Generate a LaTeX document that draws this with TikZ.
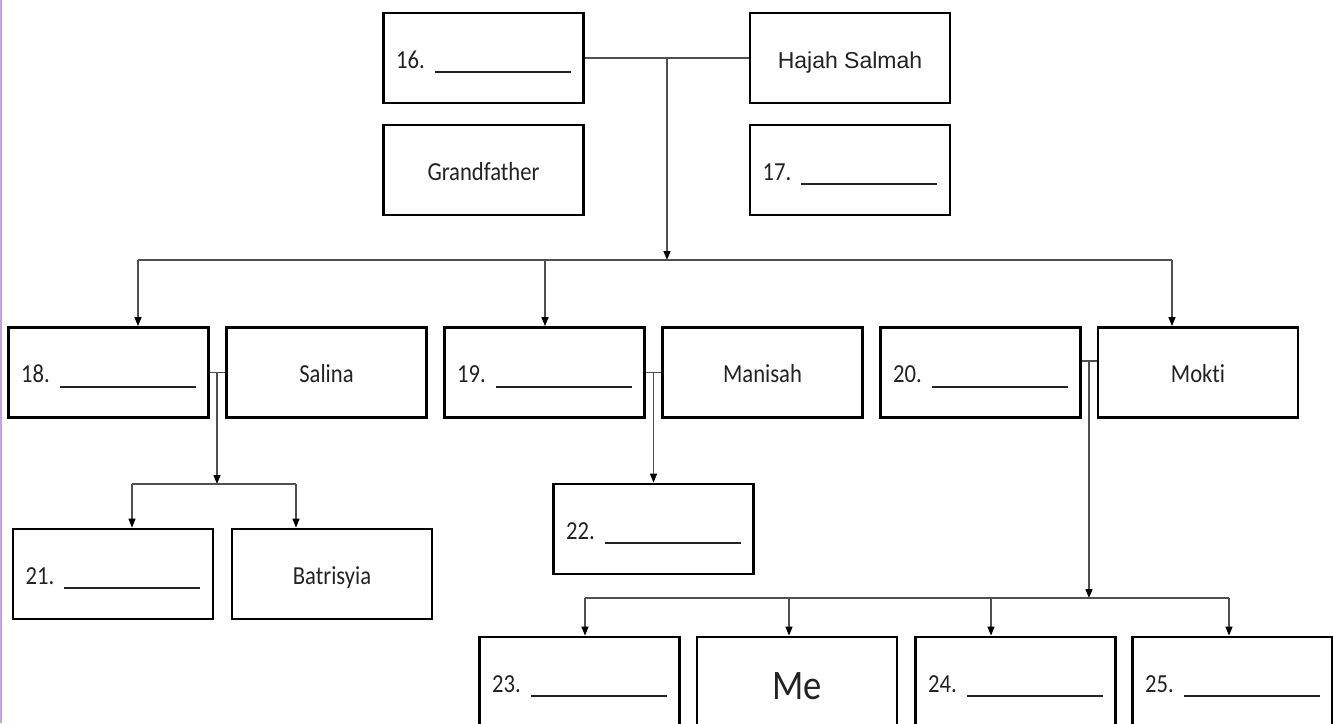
\documentclass[tikz,border=0pt]{standalone}
\usepackage{fontspec}
\setmainfont{Carlito}[FakeStretch=0.87, Ligatures={NoCommon}]
\newfontfamily\hajahfont{Liberation Sans}
\usetikzlibrary{arrows.meta}
\definecolor{ink}{RGB}{35,35,35}
\definecolor{wire}{RGB}{80,80,80}
\definecolor{edgepurple}{RGB}{200,160,222}
\newcommand\fillin[1]{#1.\hspace{10pt}\rule[-5pt]{136pt}{2pt}}
\begin{document}
\begin{tikzpicture}[x=1pt,y=-1pt,
  person/.style={draw=black, line width=2.8pt, fill=white,
    minimum width=200pt, minimum height=90pt, inner sep=0pt,
    text=ink, font=\fontsize{26}{30}\selectfont,
    text height=20pt, text depth=0pt},
  wireline/.style={draw=wire, line width=1.3pt},
  arr/.style={wireline, -{Triangle[length=9pt,width=7pt,color=black]}}]
\useasboundingbox (0,0) rectangle (1333,723);
\fill[white] (0,0) rectangle (1333,723);
\clip (0,0) rectangle (1333,723);
\draw[edgepurple, line width=2pt] (1,0) -- (1,723);

% generation 1
\node[person] (n16) at (483.5,58) {\fillin{16}};
\node[person, font=\hajahfont\fontsize{23}{28}\selectfont] (hajah) at (850,58) {Hajah Salmah};
\node[person] (grand) at (483.5,170) {Grandfather};
\node[person] (n17) at (850,170) {\fillin{17}};

% generation 2
\node[person] (n18) at (108.5,372.5) {\fillin{18}};
\node[person] (salina) at (326.5,372.5) {Salina};
\node[person] (n19) at (544.5,372.5) {\fillin{19}};
\node[person] (manisah) at (762.5,372.5) {Manisah};
\node[person] (n20) at (980.5,372.5) {\fillin{20}};
\node[person] (mokti) at (1198,372.5) {Mokti};

% generation 3
\node[person] (n21) at (113,574) {\fillin{21}};
\node[person] (batr) at (332,574) {Batrisyia};
\node[person] (n22) at (653.5,529) {\fillin{22}};
\node[person] (n23) at (579.5,682) {\fillin{23}};
\node[person, font=\fontsize{42}{46}\selectfont, text height=34pt] (me) at (797,682) {Me};
\node[person] (n24) at (1015.5,682) {\fillin{24}};
\node[person] (n25) at (1232.5,682) {\fillin{25}};

% connectors: grandparents
\coordinate (j0) at (667,58);
\coordinate (barC) at (667,260);
\coordinate (barL) at (138,260);
\coordinate (barM) at (545,260);
\coordinate (barR) at (1172,260);
\draw[wireline] (n16.east) -- (hajah.west);
\draw[arr] (j0) -- (barC);
\draw[wireline] (barL) -- (barR);
\draw[arr] (barL) -- (barL |- n18.north);
\draw[arr] (barM) -- (barM |- n19.north);
\draw[arr] (barR) -- (barR |- mokti.north);

% couple 18 - Salina
\coordinate (j18) at (217,372.5);
\coordinate (k18) at (217,484);
\coordinate (kL) at (132,484);
\coordinate (kR) at (296,484);
\draw[wireline] (n18.east) -- (salina.west);
\draw[arr] (j18) -- (k18);
\draw[wireline] (kL) -- (kR);
\draw[arr] (kL) -- (kL |- n21.north);
\draw[arr] (kR) -- (kR |- batr.north);

% couple 19 - Manisah
\draw[wireline] (n19.east) -- (manisah.west);
\draw[arr] (n22.north |- n19.east) -- (n22.north);

% couple 20 - Mokti
\coordinate (j20) at (1089,361);
\coordinate (k20) at (1089,598);
\coordinate (mL) at (585,598);
\coordinate (mA) at (789,598);
\coordinate (mB) at (991,598);
\coordinate (mR) at (1229,598);
\draw[wireline] (j20 -| n20.east) -- (j20 -| mokti.west);
\draw[arr] (j20) -- (k20);
\draw[wireline] (mL) -- (mR);
\draw[arr] (mL) -- (mL |- n23.north);
\draw[arr] (mA) -- (mA |- me.north);
\draw[arr] (mB) -- (mB |- n24.north);
\draw[arr] (mR) -- (mR |- n25.north);
\end{tikzpicture}
\end{document}
